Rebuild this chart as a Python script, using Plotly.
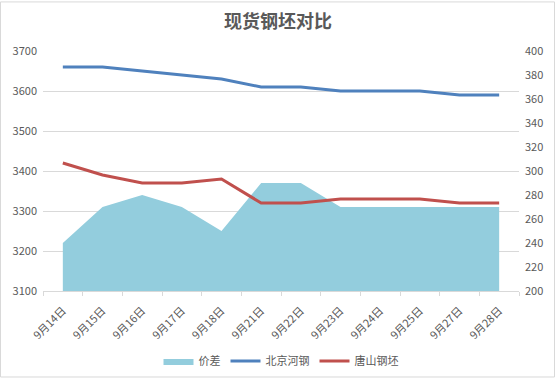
import plotly.graph_objects as go

dates = ["9月14日", "9月15日", "9月16日", "9月17日", "9月18日", "9月21日",
         "9月22日", "9月23日", "9月24日", "9月25日", "9月27日", "9月28日"]
beijing = [3660, 3660, 3650, 3640, 3630, 3610, 3610, 3600, 3600, 3600, 3590, 3590]
tangshan = [3420, 3390, 3370, 3370, 3380, 3320, 3320, 3330, 3330, 3330, 3320, 3320]
spread = [240, 270, 280, 270, 250, 290, 290, 270, 270, 270, 270, 270]

W, H = 556, 388
L, R, T, B = 43, 37, 51, 90
ph = H - T - B
pw = W - L - R

fig = go.Figure()
fig.add_trace(go.Scatter(x=dates, y=spread, name="价差", mode="lines",
                         fill="tozeroy", fillcolor="#93CDDD",
                         line=dict(width=0, color="#93CDDD"), yaxis="y"))
fig.add_trace(go.Scatter(x=dates, y=beijing, name="北京河钢", mode="lines",
                         line=dict(width=3, color="#4F81BD"), yaxis="y2"))
fig.add_trace(go.Scatter(x=dates, y=tangshan, name="唐山钢坯", mode="lines",
                         line=dict(width=3, color="#C0504D"), yaxis="y2"))

tickfont = dict(family="Noto Sans CJK SC", size=11, color="#595959")

fig.update_layout(
    width=W, height=H,
    margin=dict(l=L, r=R, t=T, b=B),
    paper_bgcolor="white", plot_bgcolor="white",
    font=dict(family="Noto Sans CJK SC", color="#595959"),
    title=dict(text="<b>现货钢坯对比</b>", x=0.5, xref="container", xanchor="center",
               y=1 - 22 / H, yref="container", yanchor="middle",
               font=dict(family="Noto Sans CJK SC", size=18, color="#595959")),
    xaxis=dict(type="category", tickson="boundaries", ticks="outside", ticklen=4,
               tickcolor="#D9D9D9", showgrid=False, showline=True, linecolor="#D9D9D9",
               tickangle=-45, tickfont=tickfont, range=[-0.5, 11.5], fixedrange=True,
               automargin=False, ticklabelstandoff=8),
    yaxis=dict(side="right", range=[200, 400], dtick=20, showgrid=False,
               zeroline=False, tickfont=tickfont, ticks="", fixedrange=True,
               automargin=False, ticklabelstandoff=5),
    yaxis2=dict(side="left", overlaying="y", range=[3100, 3700], dtick=100,
                showgrid=True, gridcolor="#D9D9D9", gridwidth=1, zeroline=False,
                tickfont=tickfont, ticks="", fixedrange=True, automargin=False,
                ticklabelstandoff=5),
    legend=dict(orientation="h", x=0.5, xanchor="center", y=-(370 - (H - B)) / ph,
                yanchor="middle", font=dict(family="Noto Sans CJK SC", size=11, color="#595959"),
                bgcolor="rgba(0,0,0,0)"),
    showlegend=True,
    shapes=[dict(type="rect", xref="paper", yref="paper",
                 x0=(0.5 - L) / pw, x1=(W - 1.5 - L) / pw,
                 y0=((H - B) - (H - 1.5)) / ph, y1=((H - B) - 0.5) / ph,
                 line=dict(color="#D9D9D9", width=1), fillcolor="rgba(0,0,0,0)",
                 layer="below")],
)

fig.write_html("out.html", config={"displayModeBar": False},
               post_script="document.documentElement.style.margin='0';document.body.style.margin='0';document.body.style.overflow='hidden';")
